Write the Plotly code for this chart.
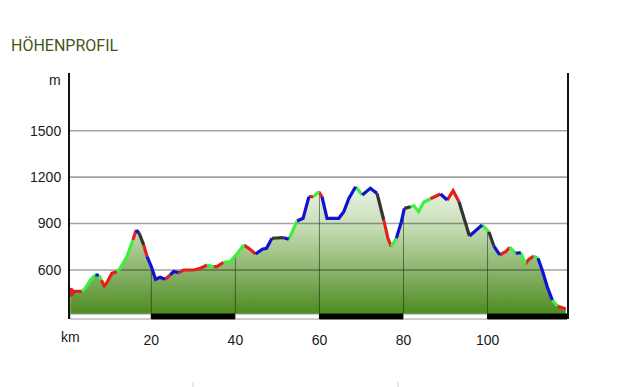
import numpy as np
import plotly.graph_objects as go

# ---------------- data ----------------
km = [0.7, 1.8, 3.5, 4.5, 5.5, 6.7, 7.5, 8.1, 8.8, 9.4,
      10.6, 11.8, 12.6, 14.2, 15.6, 16.4, 17.1, 18.2, 19.0, 20.0,
      21.0, 22.1, 23.3, 24.5, 25.3, 26.5, 27.7, 30.1, 31.7, 33.3,
      34.8, 35.6, 37.2, 38.8, 40.4, 42.0, 43.2, 44.8, 46.4, 47.4,
      48.7, 51.5, 52.7, 54.7, 56.1, 57.5, 58.6, 59.8, 60.6, 61.8,
      64.6, 65.8, 67.0, 68.6, 70.2, 72.1, 73.7, 75.3, 76.3, 77.1,
      78.3, 79.5, 80.2, 81.7, 82.5, 83.6, 84.8, 86.4, 88.8, 90.4,
      91.8, 93.2, 94.4, 95.7, 97.1, 98.7, 100.3, 101.5, 102.9, 104.3,
      105.3, 106.7, 107.9, 109.0, 109.8, 111.0, 112.0, 113.0, 114.2, 115.4,
      116.6, 118.6]
elev = [456, 462, 462, 490, 535, 568, 566, 535, 497, 518,
        578, 590, 613, 686, 794, 858, 839, 761, 686, 622,
        540, 553, 540, 568, 590, 583, 600, 600, 611, 632,
        622, 622, 650, 654, 705, 761, 740, 703, 734, 740,
        805, 809, 798, 917, 934, 1074, 1074, 1106, 1074, 934,
        934, 977, 1063, 1138, 1085, 1128, 1095, 923, 805, 751,
        805, 912, 998, 1009, 1015, 977, 1038, 1060, 1091, 1052,
        1112, 1041, 934, 820, 854, 891, 847, 755, 697, 718,
        747, 708, 712, 639, 669, 690, 676, 600, 492, 406,
        367, 348]
# colour code of each section (from point i to point i+1)
seg_codes = ("BRGGGBGRRR"
             "RGGGRBKRBB"
             "BBRBBRRRRG"
             "RRGGGRRBBB"
             "KBGBBRGRBB"
             "BBBGBBKRRG"
             "BBKGGGGRBR"
             "RKKBBGKBRR"
             "GBGRRGBBBG"
             "R")
y_ticks = [600, 900, 1200, 1500]
x_ticks = [20, 40, 60, 80, 100]
title_text = "HÖHENPROFIL"
y_unit = "m"
x_unit = "km"

# ---------------- styles ----------------
seg_colors = {"R": "#e3201b", "G": "#3cf03c", "B": "#1111d4", "K": "#333333"}
x_range = [0.65, 118.9]
y_range = [283.4, 1872.8]
stripe_frac = 5 / 246
font = "Liberation Sans, Arial, sans-serif"

assert len(seg_codes) == len(km) - 1 == len(elev) - 1

fig = go.Figure()

# filled profile with vertical gradient
fig.add_trace(go.Scatter(
    x=km, y=elev, mode="lines", line=dict(width=0, color="rgba(0,0,0,0)"),
    fill="tozeroy",
    fillgradient=dict(
        type="vertical", start=300, stop=1150,
        colorscale=[[0.0, "#4a891b"], [0.35, "#8ab46c"],
                    [0.70, "#c9deb9"], [1.0, "#eef5e8"]]),
    hoverinfo="skip", showlegend=False))

# horizontal grid lines (drawn over the fill, semi-transparent)
gx, gy = [], []
for t in y_ticks:
    gx += [x_range[0], x_range[1], None]
    gy += [t, t, None]
fig.add_trace(go.Scatter(x=gx, y=gy, mode="lines",
                         line=dict(color="rgba(0,0,0,0.36)", width=1.6),
                         hoverinfo="skip", showlegend=False))

# vertical grid lines only inside the filled area
vx, vy = [], []
for t in x_ticks:
    vx += [t, t, None]
    vy += [y_range[0], float(np.interp(t, km, elev)), None]
fig.add_trace(go.Scatter(x=vx, y=vy, mode="lines",
                         line=dict(color="rgba(20,40,10,0.55)", width=1),
                         hoverinfo="skip", showlegend=False))

# coloured profile line
for code, col in seg_colors.items():
    xs, ys = [], []
    i = 0
    n = len(seg_codes)
    while i < n:
        if seg_codes[i] == code:
            j = i
            while j < n and seg_codes[j] == code:
                j += 1
            xs += km[i:j + 1] + [None]
            ys += elev[i:j + 1] + [None]
            i = j
        else:
            i += 1
    fig.add_trace(go.Scatter(x=xs, y=ys, mode="lines",
                             line=dict(color=col, width=3.2),
                             connectgaps=False, hoverinfo="skip",
                             showlegend=False))

# start marker
fig.add_trace(go.Scatter(x=[km[0]], y=[elev[0]], mode="markers",
                         marker=dict(color="#e3201b", size=9),
                         hoverinfo="skip", showlegend=False))

# km scale stripe
bounds = [x_range[0]] + x_ticks + [x_range[1]]
shapes = []
for k in range(len(bounds) - 1):
    black = k % 2 == 1
    shapes.append(dict(type="rect", xref="x", yref="paper",
                       x0=bounds[k], x1=bounds[k + 1], y0=0, y1=stripe_frac,
                       fillcolor="#000000" if black else "#ffffff",
                       line=dict(color="#000000" if black else "#9a9a9a", width=1),
                       layer="above"))
# faint marks at the bottom of the page
for px in [193, 398]:
    xp = (px - 70) / 497
    shapes.append(dict(type="line", xref="paper", yref="paper",
                       x0=xp, x1=xp, y0=(319 - 382) / 246, y1=(319 - 387) / 246,
                       line=dict(color="#d0d0d0", width=1)))

annotations = [
    dict(text=title_text, xref="paper", yref="paper", x=(9 - 70) / 497,
         y=(319 - 45) / 246, xanchor="left", yanchor="middle", showarrow=False,
         font=dict(family="Roboto, sans-serif", size=16,
                   color="#46541a")),
    dict(text=y_unit, xref="paper", yref="paper", x=0, xshift=-7,
         y=(319 - 80) / 246, xanchor="right", yanchor="middle", showarrow=False,
         font=dict(family=font, size=14, color="#1a1a1a")),
    dict(text=x_unit, xref="paper", yref="paper", x=0,
         y=(319 - 337) / 246, xanchor="center", yanchor="middle", showarrow=False,
         font=dict(family=font, size=14, color="#1a1a1a")),
]

fig.update_layout(
    width=620, height=387,
    margin=dict(l=70, r=53, t=73, b=68),
    paper_bgcolor="white", plot_bgcolor="white",
    shapes=shapes, annotations=annotations,
    xaxis=dict(range=x_range, tickvals=x_ticks, ticktext=[str(t) for t in x_ticks],
               showgrid=False, zeroline=False, showline=False,
               ticks="outside", ticklen=8, tickcolor="rgba(0,0,0,0)",
               tickfont=dict(family=font, size=14, color="#1a1a1a")),
    yaxis=dict(range=y_range, tickvals=y_ticks, ticktext=[str(t) for t in y_ticks],
               showgrid=False, zeroline=False, showline=True, mirror=True,
               linecolor="#111111", linewidth=2,
               ticks="outside", ticklen=4, tickcolor="rgba(0,0,0,0)",
               tickfont=dict(family=font, size=14, color="#1a1a1a")),
)

fig.write_html("out.html")
